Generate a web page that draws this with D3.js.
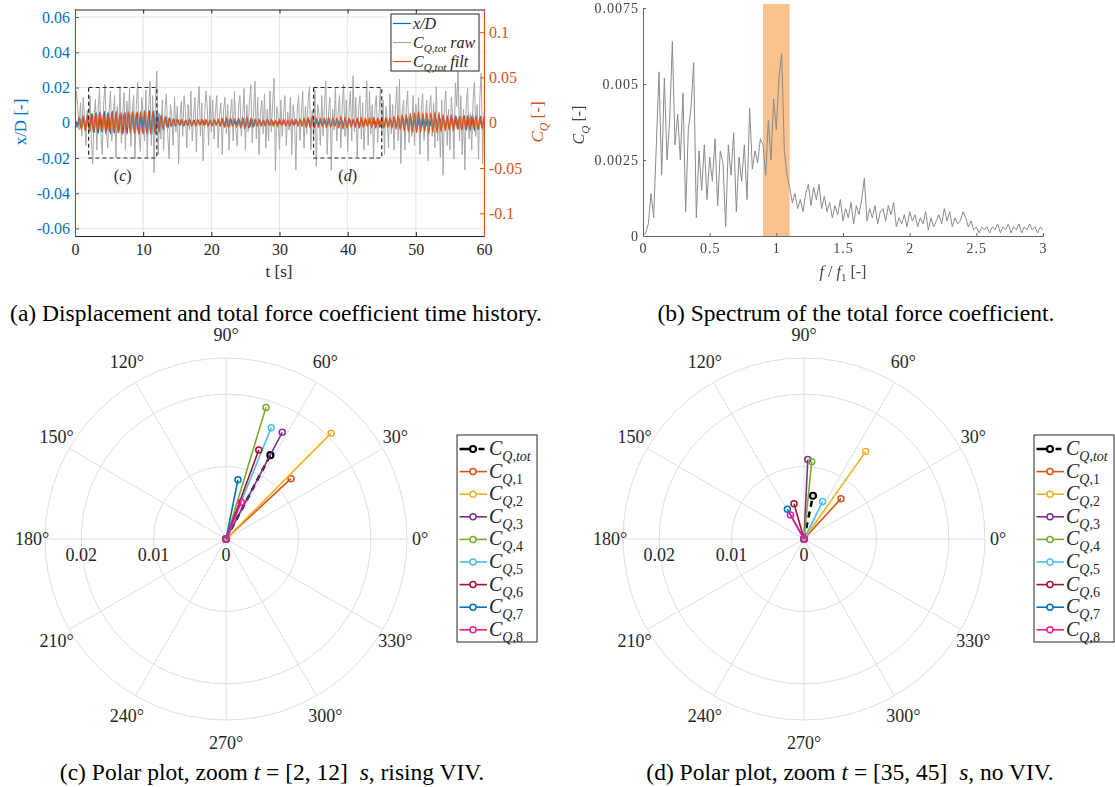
<!DOCTYPE html>
<html>
<head>
<meta charset="utf-8">
<script src="https://cdn.jsdelivr.net/npm/d3@7"></script>
<style>
  body { margin: 0; background: #fff; }
  svg { display: block; font-family: "Liberation Serif", "Times New Roman", serif; }
  text { white-space: pre; }
</style>
</head>
<body>
<div id="chart"></div>
<script>
// ---------- (a) time history ----------
const rawStep = 0.2;            // s between raw samples
// C_Q,tot raw, in 1e-3
const cqRaw = [
  12, 35, 18, -8, 22, -15, 28, 5, -25, 14, -6,
  30, -18, -45, 8, 26, -30, 15, 38, -12, -35,
  20, 42, -8, -28, 12, 35, -20, 5, 30, -38,
  18, -10, 40, -22, 10, 33, -30, 24, -5, 38,
  -26, 12, 30, -40, 20, 45, -15, -32, 28, 8,
  -20, 36, -38, 15, 46, -25, 30, -55, 22, 57,
  -35, 10, -18, 25, -30, 14, 32, -12, -40, 20,
  8, -25, 28, -10, 18, -45, 6, 24, -15, 30,
  12, -28, 20, -8, 35, -20, 10, 28, -32, 15,
  40, -15, 22, -42, 5, 35, 18, -25, 30, -10,
  25, -18, 12, 30, -28, 8, 22, -35, 14, 28,
  -12, 20, -30, 10, 26, -20, 35, -8, -26, 18,
  30, -15, 8, 38, -30, 20, -10, 24, 42, -22,
  12, 46, -18, 28, -35, 10, 25, -12, 32, -28,
  15, -20, 35, -10, 22, 49, -53, 18, 8, -30,
  25, -15, 10, 30, -25, 12, -8, 28, -35, 20,
  6, -52, 15, 30, -20, 10, 35, -28, 18, -12,
  25, 40, -30, 14, -18, 36, -48, 20, 10, -25,
  30, -15, 22, 46, -35, 12, 28, -52, 15, -8,
  38, -20, 10, 30, -28, 18, 42, -15, 25, -32,
  12, 35, -20, 52, -10, 28, -38, 15, 30, -18,
  22, -30, 8, 46, -25, 35, -12, 20, -40, 15,
  30, -22, 10, 38, -15, 25, -35, 18, 6, -28,
  32, -12, 20, -30, 14, 40, -20, 48, -45, 12,
  25, -30, 18, 35, -22, 10, -15, 30, -25, 20,
  -10, 28, -35, 15, 32, -20, 8, 25, -42, 18,
  30, -15, 22, -28, 40, -20, 12, -38, 25, -58,
  20, 35, -25, 15, -30, 28, 10, -40, 44, 18,
  63, -20, 30, -35, 15, -52, 22, 38, -18, 10,
  -30, 25, 45, -15, 20, -40, 30, 55, -45, 12
];

const oscStep = 0.3;            // s between oscillation extrema
const xdStart = 0.12;           // displacement lags the force a little
// x/D, in 1e-4
const xdOsc = [
  10, -20, 25, -30, 28, -35, 40, -45, 50, -55, 58,
  -60, 62, -55, 65, -60, 58, -62, 66, -60, 64,
  -58, 62, -65, 60, -66, 63, -60, 67, -64, 62,
  -68, 70, -66, 72, -70, 68, -72, 70, -66, 62,
  -55, 48, -42, 36, -30, 26, -22, 20, -18, 16,
  -15, 14, -16, 15, -13, 12, -14, 15, -13, 12,
  -14, 16, -15, 13, -12, 14, -15, 13, -12, 14,
  -16, 18, -20, 22, -20, 18, -16, 15, -14, 16,
  -18, 22, -25, 28, -26, 24, -22, 20, -18, 15,
  -14, 12, -13, 15, -14, 12, -11, 13, -15, 14,
  -12, 11, -13, 14, -12, 11, -10, 12, -13, 12,
  -11, 13, -15, 16, -18, 20, -18, 16, -15, 14,
  -13, 14, -16, 18, -17, 15, -14, 13, -12, 14,
  -16, 18, -20, 18, -16, 14, -13, 15, -17, 18,
  -16, 15, -14, 13, -15, 17, -18, 20, -22, 24,
  -22, 20, -18, 16, -15, 17, -20, 24, -26, 25,
  -22, 20, -18, 17, -19, 21, -24, 26, -28, 27,
  -25, 23, -22, 24, -26, 28, -27, 25, -23, 22,
  -24, 26, -28, 30, -32, 34, -35, 36, -38, 40,
  -42, 44, -45, 46, -44, 42, -40, 38, -36, 34
];
// C_Q,tot filtered, in 1e-3
const cqFilt = [
  3, -5, 6, -7, 8, -9, 9, -10, 10, -11, 11,
  -11, 12, -10, 11, -12, 11, -10, 12, -11, 12,
  -11, 10, -12, 11, -10, 12, -11, 12, -12, 11,
  -12, 12, -11, 13, -12, 12, -13, 12, -11, 10,
  -9, 8, -7, 6, -5, 5, -4, 4, -4, 4,
  -3, 4, -4, 3, -3, 4, -4, 3, -4, 4,
  -3, 4, -3, 4, -4, 3, -4, 4, -3, 4,
  -4, 5, -5, 6, -5, 5, -4, 4, -5, 5,
  -6, 6, -7, 6, -6, 5, -5, 4, -4, 4,
  -4, 3, -4, 4, -3, 4, -4, 3, -4, 4,
  -3, 4, -4, 3, -4, 4, -3, 4, -4, 4,
  -4, 5, -5, 6, -6, 7, -6, 5, -5, 5,
  -4, 5, -6, 6, -5, 5, -4, 5, -6, 7,
  -7, 6, -6, 5, -5, 4, -5, 5, -6, 6,
  -5, 5, -4, 5, -5, 6, -6, 5, -5, 6,
  -6, 6, -5, 5, -6, 7, -7, 8, -8, 9,
  -9, 9, -10, 10, -11, 11, -11, 12, -11, 11,
  -10, 11, -12, 11, -11, 12, -11, 10, -10, 9,
  -9, 8, -8, 9, -9, 8, -7, 7, -8, 8,
  -7, 8, -7, 7, -6, 7, -7, 6, -6, 7
];
const timeTicks = [0, 10, 20, 30, 40, 50, 60];
const xdTicks = [-0.06, -0.04, -0.02, 0, 0.02, 0.04, 0.06];
const cqTicks = [-0.1, -0.05, 0, 0.05, 0.1];
const zoomNames = ["c", "d"];
const zoomStart = [2, 35];
const zoomEnd = [12, 45];
const zoomHalfHeight = 0.02;

// ---------- (b) spectrum ----------
const specStep = 0.02;
// C_Q amplitude, in 1e-4
const specAmp = [
  0, 1, 4, 14, 6, 30, 54, 20, 52, 25, 38,
  64, 30, 40, 25, 47, 8, 35, 42, 57, 6,
  28, 15, 30, 12, 26, 18, 32, 10, 28, 24,
  3, 30, 20, 34, 8, 26, 18, 30, 12, 42,
  22, 28, 24, 32, 30, 20, 38, 25, 45, 35,
  52, 60, 28, 20, 16, 11, 14, 9, 12, 8,
  14, 17, 10, 16, 12, 17, 9, 13, 8, 11,
  6, 10, 7, 12, 5, 9, 6, 11, 4, 10,
  7, 12, 19, 5, 9, 6, 10, 4, 8, 9,
  5, 10, 7, 11, 3, 6, 4, 7, 3, 8,
  5, 7, 3, 6, 4, 8, 2, 6, 3, 5,
  7, 4, 9, 5, 8, 3, 6, 4, 5, 8,
  6, 3, 5, 2, 3, 1, 3, 2, 3, 1,
  3, 2, 4, 1, 3, 2, 4, 1, 3, 2,
  4, 1, 3, 2, 4, 2, 3, 1, 3, 2
];
const freqTicks = [0, 0.5, 1, 1.5, 2, 2.5, 3];
const ampTicks = [0, 0.0025, 0.005, 0.0075];
const lockBand = [0.9, 1.1];

// ---------- (c), (d) polar ----------
const seriesIds = ["tot", "1", "2", "3", "4", "5", "6", "7", "8"];
const seriesColors = ["#000000", "#D95319", "#EDB120", "#7E2F8E", "#77AC30", "#4DBEEE", "#A2142F", "#0072BD", "#F0189A"];
const magC = [0.0131, 0.01225, 0.0206, 0.01666, 0.0190, 0.0166, 0.0131, 0.00836, 0.0055];
const angC = [62.1, 42.9, 45.2, 62.2, 73.1, 67.9, 69.8, 78.6, 67.5];
const magD = [0.0061, 0.00756, 0.01477, 0.0110, 0.01073, 0.0058, 0.00507, 0.0047, 0.0038];
const angD = [78.3, 47.5, 54.8, 87.3, 84.3, 63.6, 105.8, 119.2, 119.5];
const thetaTicks = [0, 30, 60, 90, 120, 150, 180, 210, 240, 270, 300, 330];
const rTicks = [0, 0.01, 0.02];
const rMax = 0.025;

const blue = "#0072BD", orange = "#D95319", dark = "#262626";
const serif = '"Liberation Serif", "Times New Roman", serif';

const svg = d3.select("#chart")
  .append("svg")
  .attr("width", 1115)
  .attr("height", 787);

svg.append("rect").attr("width", 1115).attr("height", 787).attr("fill", "#fff");
const defs = svg.append("defs");

// text with italic parts and subscripts
function mathText(parent, parts, size) {
  const text = parent.append("text").attr("font-size", size);
  const shift = size * 0.3;
  let down = false;
  parts.forEach(p => {
    const ts = text.append("tspan").text(p.t);
    if (p.i) ts.attr("font-style", "italic");
    if (p.sub) ts.attr("font-size", size * 0.7);
    if (p.sub && !down) { ts.attr("dy", shift); down = true; }
    else if (!p.sub && down) { ts.attr("dy", -shift); down = false; }
  });
  return text;
}

function styleAxis(g, color, size) {
  g.attr("font-family", serif).attr("font-size", size);
  g.select(".domain").attr("stroke", color);
  g.selectAll(".tick line").attr("stroke", color);
  g.selectAll(".tick text").attr("fill", color);
}

// =============== PANEL (a) ===============
const A = { left: 75, right: 484, top: 9.5, bottom: 236 };
const x = d3.scaleLinear().domain([0, 60]).range([A.left, A.right]);
const yL = d3.scaleLinear().domain([-0.0643, 0.0643]).range([A.bottom, A.top]);
const yR = d3.scaleLinear().domain([-0.125, 0.125]).range([A.bottom, A.top]);

const gA = svg.append("g");

// GRID
gA.append("g").selectAll("line").data(timeTicks).join("line")
  .attr("x1", d => x(d)).attr("x2", d => x(d))
  .attr("y1", A.top).attr("y2", A.bottom)
  .attr("stroke", "#e4e4e4");
gA.append("g").selectAll("line").data(xdTicks).join("line")
  .attr("x1", A.left).attr("x2", A.right)
  .attr("y1", d => yL(d)).attr("y2", d => yL(d))
  .attr("stroke", "#dbe7f2");

defs.append("clipPath").attr("id", "clipA")
  .append("rect")
  .attr("x", A.left).attr("y", A.top)
  .attr("width", A.right - A.left).attr("height", A.bottom - A.top);

const plotA = gA.append("g").attr("clip-path", "url(#clipA)");

// LINES
const xdPts = xdOsc.map((v, i) => [xdStart + i * oscStep, v / 1e4]);
const rawPts = cqRaw.map((v, i) => [i * rawStep, v / 1e3]);
const filtPts = cqFilt.map((v, i) => [i * oscStep, v / 1e3]);

plotA.append("path").datum(xdPts)
  .attr("d", d3.line().x(d => x(d[0])).y(d => yL(d[1])).curve(d3.curveMonotoneX))
  .attr("fill", "none").attr("stroke", blue).attr("stroke-width", 1.3);
plotA.append("path").datum(rawPts)
  .attr("d", d3.line().x(d => x(d[0])).y(d => yR(d[1])))
  .attr("fill", "none").attr("stroke", "#a8a8a8").attr("stroke-width", 1);
plotA.append("path").datum(filtPts)
  .attr("d", d3.line().x(d => x(d[0])).y(d => yR(d[1])).curve(d3.curveMonotoneX))
  .attr("fill", "none").attr("stroke", orange).attr("stroke-width", 1.2);

// ZOOM WINDOWS
zoomNames.forEach((n, k) => {
  gA.append("rect")
    .attr("x", x(zoomStart[k])).attr("y", yL(zoomHalfHeight))
    .attr("width", x(zoomEnd[k]) - x(zoomStart[k]))
    .attr("height", yL(-zoomHalfHeight) - yL(zoomHalfHeight))
    .attr("fill", "none").attr("stroke", "#2a2a2a")
    .attr("stroke-width", 1.2).attr("stroke-dasharray", "4,3");
  const lab = gA.append("text")
    .attr("x", x((zoomStart[k] + zoomEnd[k]) / 2)).attr("y", 181)
    .attr("text-anchor", "middle").attr("font-size", 16).attr("fill", dark);
  lab.append("tspan").text("(");
  lab.append("tspan").attr("font-style", "italic").text(n);
  lab.append("tspan").text(")");
});

// AXES
gA.append("g").attr("transform", `translate(0,${A.top})`)
  .call(d3.axisTop(x).tickValues(timeTicks).tickSizeInner(-4).tickSizeOuter(0).tickFormat(""))
  .call(g => styleAxis(g, dark, 16));
gA.append("g").attr("transform", `translate(0,${A.bottom})`)
  .call(d3.axisBottom(x).tickValues(timeTicks).tickSizeInner(-4).tickSizeOuter(0).tickPadding(8))
  .call(g => styleAxis(g, dark, 16));
gA.append("g").attr("transform", `translate(${A.left},0)`)
  .call(d3.axisLeft(yL).tickValues(xdTicks).tickSizeInner(-4).tickSizeOuter(0).tickPadding(5)
    .tickFormat(d => String(d)))
  .call(g => styleAxis(g, blue, 16));
gA.append("g").attr("transform", `translate(${A.right},0)`)
  .call(d3.axisRight(yR).tickValues(cqTicks).tickSizeInner(-4).tickSizeOuter(0).tickPadding(5)
    .tickFormat(d => String(d)))
  .call(g => styleAxis(g, orange, 16));

// AXIS LABELS
gA.append("text").attr("x", 279).attr("y", 277).attr("text-anchor", "middle")
  .attr("font-size", 17).attr("fill", dark).text("t [s]");
gA.append("text").attr("transform", "translate(26,122) rotate(-90)")
  .attr("text-anchor", "middle").attr("font-size", 17).attr("fill", blue).text("x/D [-]");
mathText(gA, [{ t: "C", i: 1 }, { t: "Q", i: 1, sub: 1 }, { t: " [-]" }], 17)
  .attr("transform", "translate(543,122) rotate(-90)")
  .attr("text-anchor", "middle").attr("fill", orange);

// LEGEND
const legA = gA.append("g");
legA.append("rect").attr("x", 391).attr("y", 14).attr("width", 88).attr("height", 57)
  .attr("fill", "#fff").attr("stroke", dark).attr("stroke-width", 1);
const legAColors = [blue, "#a8a8a8", orange];
const legAParts = [
  [{ t: "x/D", i: 1 }],
  [{ t: "C", i: 1 }, { t: "Q,tot", i: 1, sub: 1 }, { t: " raw", i: 1 }],
  [{ t: "C", i: 1 }, { t: "Q,tot", i: 1, sub: 1 }, { t: " filt", i: 1 }]
];
legAParts.forEach((p, k) => {
  const yy = 23.5 + k * 19;
  legA.append("line").attr("x1", 393).attr("x2", 411).attr("y1", yy).attr("y2", yy)
    .attr("stroke", legAColors[k]).attr("stroke-width", 1.2);
  mathText(legA, p, 16).attr("x", 413).attr("y", yy + 5).attr("fill", dark);
});

// =============== PANEL (b) ===============
const B = { left: 643, right: 1043, top: 8, bottom: 236 };
const xB = d3.scaleLinear().domain([0, 3]).range([B.left, B.right]);
const yB = d3.scaleLinear().domain([0, 0.0075]).range([B.bottom, B.top]);

defs.append("filter").attr("id", "soft")
  .append("feGaussianBlur").attr("stdDeviation", 0.6);

const gB = svg.append("g").attr("filter", "url(#soft)");

// LOCK-IN BAND
gB.append("rect")
  .attr("x", xB(lockBand[0])).attr("y", 4)
  .attr("width", xB(lockBand[1]) - xB(lockBand[0])).attr("height", B.bottom - 4)
  .attr("fill", "#F6A860").attr("opacity", 0.7);

// SPECTRUM
const specPts = specAmp.map((v, i) => [i * specStep, v / 1e4]);
gB.append("path").datum(specPts)
  .attr("d", d3.line().x(d => xB(d[0])).y(d => yB(d[1])))
  .attr("fill", "none").attr("stroke", "#8a8a8a").attr("stroke-width", 1);

// AXES
gB.append("g").attr("transform", `translate(0,${B.bottom})`)
  .call(d3.axisBottom(xB).tickValues(freqTicks).tickSizeInner(-3).tickSizeOuter(0).tickPadding(7)
    .tickFormat(d => String(d)))
  .call(g => styleAxis(g, "#666", 14))
  .call(g => g.selectAll(".tick text").attr("fill", "#444").attr("letter-spacing", 1));
gB.append("g").attr("transform", `translate(${B.left},0)`)
  .call(d3.axisLeft(yB).tickValues(ampTicks).tickSizeInner(-3).tickSizeOuter(0).tickPadding(4)
    .tickFormat(d => String(d)))
  .call(g => styleAxis(g, "#666", 14))
  .call(g => g.selectAll(".tick text").attr("fill", "#444").attr("letter-spacing", 1));

gB.append("text").attr("x", 843).attr("y", 277).attr("text-anchor", "middle")
  .attr("font-size", 16).attr("fill", "#444")
  .call(t => {
    t.append("tspan").attr("font-style", "italic").text("f");
    t.append("tspan").text(" / ");
    t.append("tspan").attr("font-style", "italic").text("f");
    t.append("tspan").attr("font-size", 11).attr("dy", 4).text("1");
    t.append("tspan").attr("dy", -4).text(" [-]");
  });
mathText(gB, [{ t: "C", i: 1 }, { t: "Q", i: 1, sub: 1 }, { t: " [-]" }], 16)
  .attr("transform", "translate(584,125) rotate(-90)")
  .attr("text-anchor", "middle").attr("fill", "#444");

// =============== PANELS (c), (d) ===============
const r = d3.scaleLinear().domain([0, rMax]).range([0, 181]);

function drawPolar(cx, cy, mags, angs, leg) {
  const g = svg.append("g");
  const px = (m, a) => cx + r(m) * Math.cos(a * Math.PI / 180);
  const py = (m, a) => cy - r(m) * Math.sin(a * Math.PI / 180);

  // GRID
  g.append("g").selectAll("line").data(thetaTicks).join("line")
    .attr("x1", cx).attr("y1", cy)
    .attr("x2", d => px(rMax, d)).attr("y2", d => py(rMax, d))
    .attr("stroke", "#dedede");
  g.append("g").selectAll("circle").data(rTicks.slice(1).concat([rMax])).join("circle")
    .attr("cx", cx).attr("cy", cy).attr("r", d => r(d))
    .attr("fill", "none").attr("stroke", "#dedede");

  // THETA LABELS
  g.append("g").selectAll("text").data(thetaTicks).join("text")
    .attr("x", d => cx + 200 * Math.cos(d * Math.PI / 180) - 6 * Math.cos(d * Math.PI / 180) ** 3)
    .attr("y", d => cy - 204 * Math.sin(d * Math.PI / 180) + 6)
    .attr("text-anchor", "middle").attr("font-size", 18).attr("fill", dark)
    .text(d => d + "°");

  // R LABELS
  g.append("g").selectAll("text").data(rTicks).join("text")
    .attr("x", d => cx - r(d)).attr("y", cy + 22)
    .attr("text-anchor", "middle").attr("font-size", 18).attr("fill", dark)
    .text(d => String(d));

  // VECTORS
  seriesIds.forEach((id, k) => {
    const m = mags[k], a = angs[k];
    const isTot = id === "tot";
    g.append("line")
      .attr("x1", px(0, a)).attr("y1", py(0, a))
      .attr("x2", px(m, a)).attr("y2", py(m, a))
      .attr("stroke", seriesColors[k])
      .attr("stroke-width", isTot ? 2.5 : 1.6)
      .attr("stroke-dasharray", isTot ? "6,5" : null);
    g.append("g").selectAll("circle").data([0, m]).join("circle")
      .attr("cx", d => px(d, a)).attr("cy", d => py(d, a))
      .attr("r", 3).attr("fill", "none")
      .attr("stroke", seriesColors[k]).attr("stroke-width", isTot ? 2.2 : 1.5);
  });

  // LEGEND
  const lg = svg.append("g");
  lg.append("rect").attr("x", leg.x).attr("y", 435).attr("width", leg.w).attr("height", 207)
    .attr("fill", "#fff").attr("stroke", dark).attr("stroke-width", 1);
  seriesIds.forEach((id, k) => {
    const yy = 449 + k * 22.6;
    const isTot = id === "tot";
    lg.append("line").attr("x1", leg.x + 2.5).attr("x2", leg.x + 30).attr("y1", yy).attr("y2", yy)
      .attr("stroke", seriesColors[k]).attr("stroke-width", isTot ? 2.5 : 1.6)
      .attr("stroke-dasharray", isTot ? "10,9,6" : null);
    lg.append("circle").attr("cx", leg.x + 16).attr("cy", yy).attr("r", 3)
      .attr("fill", "#fff").attr("stroke", seriesColors[k]).attr("stroke-width", isTot ? 2.2 : 1.5);
    const parts = isTot
      ? [{ t: "C", i: 1 }, { t: "Q", i: 1, sub: 1 }, { t: ",", sub: 1 }, { t: "tot", i: 1, sub: 1 }]
      : [{ t: "C", i: 1 }, { t: "Q", i: 1, sub: 1 }, { t: "," + id, sub: 1 }];
    mathText(lg, parts, 20).attr("x", leg.x + 32).attr("y", yy + 6).attr("fill", dark);
  });
}

drawPolar(226, 539, magC, angC, { x: 457, w: 80 });
drawPolar(804, 539, magD, angD, { x: 1034, w: 80 });

// =============== CAPTIONS ===============
const capSize = 23.5;
svg.append("text").attr("x", 276).attr("y", 321).attr("text-anchor", "middle")
  .attr("font-size", capSize).text("(a) Displacement and total force coefficient time history.");
svg.append("text").attr("x", 856).attr("y", 321).attr("text-anchor", "middle")
  .attr("font-size", capSize).text("(b) Spectrum of the total force coefficient.");
mathText(svg, [{ t: "(c) Polar plot, zoom " }, { t: "t", i: 1 }, { t: " = [2, 12]  " }, { t: "s", i: 1 }, { t: ", rising VIV." }], capSize)
  .attr("x", 272).attr("y", 780).attr("text-anchor", "middle");
mathText(svg, [{ t: "(d) Polar plot, zoom " }, { t: "t", i: 1 }, { t: " = [35, 45]  " }, { t: "s", i: 1 }, { t: ", no VIV." }], capSize)
  .attr("x", 850).attr("y", 780).attr("text-anchor", "middle");
</script>
</body>
</html>
